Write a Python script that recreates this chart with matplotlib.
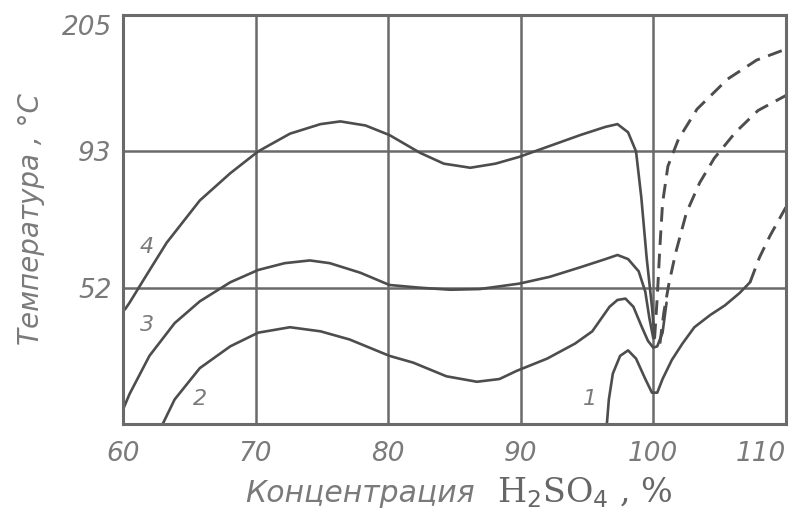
import numpy as np
import matplotlib
matplotlib.use("Agg")
import matplotlib.pyplot as plt

# y values are in grid units: 0 = bottom, 1 = 52 °C, 2 = 93 °C, 3 = 205 °C
y_ticks = [1, 2, 3]
y_tick_labels = ["52", "93", "205"]
x_ticks = [60, 70, 80, 90, 100, 110]

c4_x = [60.15, 60.5, 61.7, 63.3, 65.8, 68.1, 70.2, 72.6, 74.9, 76.4, 78.3, 80.1, 82.4, 84.2,
        86.2, 88.1, 89.9, 92.2, 94.5, 96.4, 97.3, 98.1, 98.7, 99.1, 99.5, 99.9, 100.1]
c4_y = [0.84, 0.89, 1.08, 1.33, 1.64, 1.84, 2.0, 2.13, 2.20, 2.22, 2.19, 2.12, 1.99, 1.91,
        1.88, 1.91, 1.96, 2.04, 2.12, 2.18, 2.20, 2.14, 2.0, 1.66, 1.22, 0.86, 0.63]
c4_dash_x = [100.1, 100.3, 100.5, 100.7, 101.1, 101.9, 103.3, 105.6, 107.8, 110.0]
c4_dash_y = [0.63, 0.93, 1.30, 1.62, 1.89, 2.09, 2.31, 2.53, 2.67, 2.75]

c3_x = [60.0, 60.5, 62.0, 63.9, 65.8, 68.1, 70.2, 72.2, 74.1, 75.6, 77.9, 80.1, 82.4, 84.7,
        86.9, 89.9, 92.2, 94.5, 96.4, 97.3, 98.1, 98.9, 99.4, 99.7, 100.0]
c3_y = [0.105, 0.22, 0.50, 0.74, 0.90, 1.04, 1.13, 1.18, 1.20, 1.18, 1.11, 1.02, 1.0, 0.985,
        0.99, 1.03, 1.08, 1.15, 1.21, 1.24, 1.21, 1.12, 0.97, 0.78, 0.63]
c3_dash_x = [100.5, 100.8, 101.2, 101.7, 102.5, 103.5, 104.6, 106.2, 107.9, 110.0]
c3_dash_y = [0.59, 0.82, 1.04, 1.26, 1.55, 1.77, 1.95, 2.14, 2.30, 2.41]

c2_x = [63.0, 63.9, 65.8, 68.1, 70.2, 72.6, 74.9, 77.1, 80.1, 81.9, 84.4, 86.7, 88.4, 89.7,
        92.0, 94.1, 95.4, 96.7, 97.3, 97.9, 98.5, 99.1, 99.6, 100.0, 100.3, 100.7, 101.0]
c2_y = [0.0, 0.18, 0.41, 0.57, 0.67, 0.71, 0.68, 0.62, 0.50, 0.45, 0.35, 0.31, 0.33, 0.39,
        0.48, 0.59, 0.68, 0.86, 0.91, 0.92, 0.86, 0.72, 0.61, 0.56, 0.57, 0.67, 0.89]

c1_x = [96.5, 96.65, 96.95, 97.5, 98.1, 98.7, 99.4, 99.9, 100.3, 100.7, 101.4, 102.2, 103.1,
        104.3, 105.4, 106.5, 107.3]
c1_y = [0.0, 0.18, 0.37, 0.50, 0.54, 0.48, 0.33, 0.23, 0.23, 0.33, 0.47, 0.59, 0.71, 0.80,
        0.87, 0.96, 1.04]
c1_dash_x = [107.3, 108.0, 108.8, 110.0]
c1_dash_y = [1.04, 1.22, 1.38, 1.59]

curve_labels = ["1", "2", "3", "4"]
label_x = [95.2, 65.8, 61.8, 61.8]
label_y = [0.18, 0.18, 0.73, 1.30]

line_color = "#4d4d4d"
grid_color = "#6a6a6a"
text_color = "#7a7a7a"

fig = plt.figure(figsize=(7.93, 5.20), dpi=100)
ax = fig.add_axes([0.155, 0.1846, 0.836, 0.7864])

solid = dict(color=line_color, lw=1.9, solid_capstyle="round", solid_joinstyle="round")
dashed = dict(color=line_color, lw=2.1, linestyle=(0, (5, 3)))

ax.plot(c4_x, c4_y, **solid)
ax.plot(c4_dash_x, c4_dash_y, **dashed)
ax.plot(c3_x, c3_y, **solid)
ax.plot(c3_dash_x, c3_dash_y, **dashed)
ax.plot(c2_x, c2_y, **solid)
ax.plot(c1_x, c1_y, **solid)
ax.plot(c1_dash_x, c1_dash_y, **dashed)

for lab, lx, ly in zip(curve_labels, label_x, label_y):
    ax.text(lx, ly, lab, fontsize=16, style="italic", color=text_color,
            ha="center", va="center")

ax.set_xlim(60, 110)
ax.set_ylim(0, 3)
ax.set_xticks(x_ticks)
ax.set_xticklabels([str(v) for v in x_ticks])
ax.set_yticks(y_ticks)
ax.set_yticklabels(y_tick_labels)
ax.tick_params(length=0, labelsize=19, labelcolor=text_color)
ax.tick_params(axis="x", pad=12)
ax.tick_params(axis="y", pad=8)
for lab in ax.get_xticklabels() + ax.get_yticklabels():
    lab.set_style("italic")
ax.get_yticklabels()[-1].set_va("top")
ax.get_xticklabels()[-1].set_ha("right")

ax.grid(True, color=grid_color, lw=1.8)
for s in ax.spines.values():
    s.set_color(grid_color)
    s.set_linewidth(2.2)

ax.set_ylabel("Температура , °С", fontsize=20, style="italic", color=text_color,
              labelpad=12)
fig.text(245 / 793, 0.035, "Концентрация", fontsize=21.5, style="italic", color=text_color,
         ha="left", va="baseline")
fig.text(497 / 793, 0.035, r"H$_2$SO$_4$ , %", fontsize=24, family="DejaVu Serif",
         color="#666666", ha="left", va="baseline")

fig.savefig("out.png", dpi=100)
